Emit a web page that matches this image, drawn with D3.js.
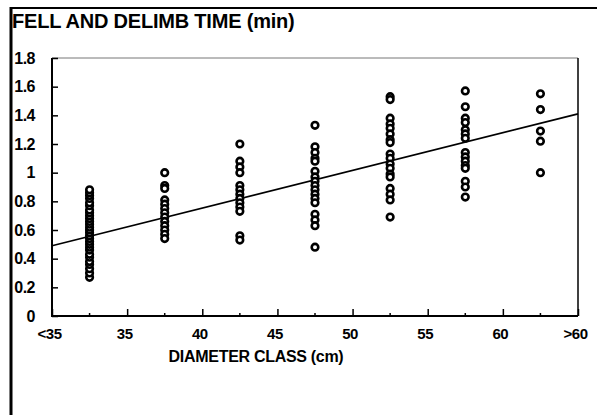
<!DOCTYPE html>
<html>
<head>
<meta charset="utf-8">
<script src="https://cdn.jsdelivr.net/npm/d3@7"></script>
<style>
  body { margin: 0; background: #fff; }
  text { font-family: Arial, "Liberation Sans", sans-serif; font-weight: bold; fill: #000; }
</style>
</head>
<body>
<div id="chart"></div>
<script>
// diameter classes (cm) and the observed times (min) in each class
var classes = [32.5, 37.5, 42.5, 47.5, 52.5, 57.5, 62.5];
var timesLt35 = [0.27, 0.30, 0.33, 0.36, 0.38, 0.41, 0.43, 0.46, 0.48, 0.50, 0.52, 0.54, 0.56, 0.58, 0.60, 0.62, 0.64, 0.66, 0.68, 0.70, 0.72, 0.74, 0.77, 0.79, 0.82, 0.84, 0.86, 0.88];
var times35 = [1.00, 0.91, 0.89, 0.81, 0.78, 0.75, 0.72, 0.69, 0.66, 0.63, 0.60, 0.57, 0.54];
var times40 = [1.20, 1.08, 1.04, 1.00, 0.91, 0.88, 0.85, 0.82, 0.79, 0.76, 0.73, 0.56, 0.53];
var times45 = [1.33, 1.18, 1.14, 1.10, 1.08, 1.01, 0.97, 0.94, 0.91, 0.88, 0.85, 0.82, 0.79, 0.71, 0.67, 0.63, 0.48];
var times50 = [1.53, 1.51, 1.38, 1.34, 1.31, 1.27, 1.23, 1.21, 1.13, 1.10, 1.06, 1.03, 0.99, 0.97, 0.89, 0.85, 0.81, 0.69];
var times55 = [1.57, 1.46, 1.38, 1.35, 1.30, 1.27, 1.24, 1.14, 1.11, 1.08, 1.05, 1.03, 0.94, 0.90, 0.83];
var times60 = [1.55, 1.44, 1.29, 1.22, 1.00];
var classTimes = [timesLt35, times35, times40, times45, times50, times55, times60];

// fitted line end points
var fitX = [30, 65];
var fitY = [0.49, 1.41];

var xTicks = [30, 35, 40, 45, 50, 55, 60, 65];
var xTickLabels = ["<35", "35", "40", "45", "50", "55", "60", ">60"];
var xMinorTicks = [32.5, 37.5, 42.5, 47.5, 52.5, 57.5, 62.5];
var yTicks = [0, 0.2, 0.4, 0.6, 0.8, 1, 1.2, 1.4, 1.6, 1.8];

var width = 597, height = 415;
var margin = {top: 58, right: 19, bottom: 99, left: 52};
var w = width - margin.left - margin.right,
    h = height - margin.top - margin.bottom;

var svg = d3.select("#chart").append("svg")
    .attr("width", width)
    .attr("height", height);

// outer frame
svg.append("line").attr("x1", 11).attr("x2", 11).attr("y1", 7).attr("y2", height)
    .attr("stroke", "#000").attr("stroke-width", 3);
svg.append("line").attr("x1", 10).attr("x2", width).attr("y1", 8).attr("y2", 8)
    .attr("stroke", "#000").attr("stroke-width", 2);

svg.append("text")
    .attr("x", 12)
    .attr("y", 28)
    .style("font-size", "20px")
    .style("letter-spacing", "-0.2px")
    .text("FELL AND DELIMB TIME (min)");

var g = svg.append("g")
    .attr("transform", "translate(" + margin.left + "," + margin.top + ")");

var x = d3.scaleLinear().domain([30, 65]).range([0, w]);
var y = d3.scaleLinear().domain([0, 1.8]).range([h, 0]);

// plot frame: top and right
g.append("line").attr("x1", 0).attr("x2", w).attr("y1", 0).attr("y2", 0)
    .attr("stroke", "#777").attr("stroke-width", 1);
g.append("line").attr("x1", w).attr("x2", w).attr("y1", 0).attr("y2", h)
    .attr("stroke", "#000").attr("stroke-width", 1.5);

// y axis, ticks pointing inward
var yAxis = g.append("g")
    .call(d3.axisRight(y).tickValues(yTicks).tickSize(6).tickFormat(d3.format("")));
yAxis.select(".domain").remove();
yAxis.selectAll(".tick line").attr("stroke-width", 1.5);
yAxis.selectAll(".tick text")
    .attr("x", -17)
    .attr("text-anchor", "end")
    .style("font-size", "16px")
    .style("letter-spacing", "-0.5px");
g.append("line").attr("x1", 0).attr("x2", 0).attr("y1", 0).attr("y2", h + 1)
    .attr("stroke", "#000").attr("stroke-width", 2);

// x axis, ticks pointing inward
var xAxis = g.append("g")
    .attr("transform", "translate(0," + h + ")")
    .call(d3.axisTop(x).tickValues(xTicks).tickSize(7)
        .tickFormat(function(d, i) { return xTickLabels[i]; }));
xAxis.select(".domain").remove();
xAxis.selectAll(".tick line").attr("stroke-width", 1.5);
xAxis.selectAll(".tick text")
    .attr("x", -3)
    .attr("y", 20)
    .attr("dy", "0.2em")
    .style("font-size", "15px")
    .style("letter-spacing", "-0.5px");
g.append("g")
    .attr("transform", "translate(0," + h + ")")
    .selectAll("line.minor")
    .data(xMinorTicks)
    .enter().append("line")
    .attr("class", "minor")
    .attr("x1", function(d) { return x(d); })
    .attr("x2", function(d) { return x(d); })
    .attr("y1", 0)
    .attr("y2", -3)
    .attr("stroke", "#000")
    .attr("stroke-width", 1.5);
g.append("line").attr("x1", 0).attr("x2", w).attr("y1", h).attr("y2", h)
    .attr("stroke", "#000").attr("stroke-width", 2);

// fitted line
g.append("line")
    .attr("x1", x(fitX[0])).attr("y1", y(fitY[0]))
    .attr("x2", x(fitX[1])).attr("y2", y(fitY[1]))
    .attr("stroke", "#000")
    .attr("stroke-width", 1.6);

// observations
var points = [];
classes.forEach(function(c, i) {
  classTimes[i].forEach(function(v) { points.push({d: c, t: v}); });
});

g.selectAll(".dot")
    .data(points)
    .enter().append("circle")
    .attr("class", "dot")
    .attr("cx", function(d) { return x(d.d); })
    .attr("cy", function(d) { return y(d.t); })
    .attr("r", 3.3)
    .attr("fill", "#fff")
    .attr("stroke", "#000")
    .attr("stroke-width", 2.6);

svg.append("text")
    .attr("x", 256)
    .attr("y", 362)
    .attr("text-anchor", "middle")
    .style("font-size", "16px")
    .style("letter-spacing", "-0.3px")
    .text("DIAMETER CLASS (cm)");
</script>
</body>
</html>
